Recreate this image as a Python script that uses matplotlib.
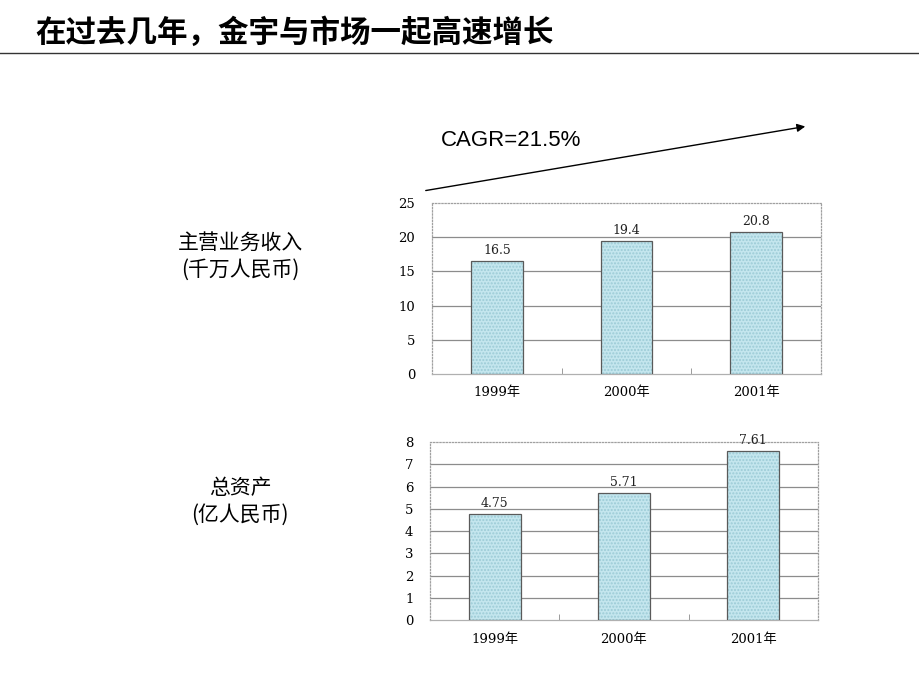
import matplotlib.pyplot as plt
from matplotlib.lines import Line2D

plt.rcParams['font.family'] = ['Noto Sans CJK SC', 'DejaVu Sans']

# chart data
years = ['1999年', '2000年', '2001年']
revenue = [16.5, 19.4, 20.8]      # 主营业务收入 (千万人民币)
assets = [4.75, 5.71, 7.61]       # 总资产 (亿人民币)
revenue_ticks = [0, 5, 10, 15, 20, 25]
assets_ticks = [0, 1, 2, 3, 4, 5, 6, 7, 8]

title = '在过去几年，金宇与市场一起高速增长'
cagr_text = 'CAGR=21.5%'

bar_color = '#c4e6ee'
hatch_color = '#9ccbd6'
edge_color = '#5a5a5a'
grid_color = '#8c8c8c'
serif = ['DejaVu Serif', 'Noto Sans CJK SC']


def draw_bars(ax, values, ticks, fmt):
    x = range(len(years))
    # fill with light dotted texture, then a dark outline on top
    ax.bar(x, values, width=0.4, color=bar_color, edgecolor=hatch_color,
           linewidth=0, hatch='.....', zorder=3)
    ax.bar(x, values, width=0.4, facecolor='none', edgecolor=edge_color,
           linewidth=0.9, zorder=4)
    for i, v in enumerate(values):
        ax.annotate(fmt.format(v), (i, v), xytext=(0, 3), textcoords='offset points',
                    ha='center', va='bottom', fontsize=9, family=serif, color='#222222')
    ax.set_xlim(-0.5, len(years) - 0.5)
    ax.set_ylim(ticks[0], ticks[-1])
    ax.set_yticks(ticks)
    ax.set_yticklabels([str(t) for t in ticks], family=serif, fontsize=9.5)
    ax.set_xticks(list(x))
    ax.set_xticklabels(years, family=serif, fontsize=9.5)
    ax.set_xticks([0.5, 1.5], minor=True)
    ax.tick_params(axis='both', which='major', length=0)
    ax.tick_params(axis='y', pad=12)
    ax.tick_params(axis='x', pad=9)
    ax.tick_params(axis='x', which='minor', direction='in', length=4, color=grid_color)
    for t in ticks[1:-1]:
        ax.axhline(t, color=grid_color, linewidth=0.9, zorder=1)
    for s in ax.spines.values():
        s.set_color('#a0a0a0')
        s.set_linestyle((0, (1, 1.5)))
        s.set_linewidth(0.9)
    ax.spines['bottom'].set_linestyle('-')
    ax.spines['bottom'].set_color('#b0b0b0')


fig = plt.figure(figsize=(9.2, 6.9), dpi=100)

ax1 = fig.add_axes([0.4696, 0.4580, 0.4228, 0.2478])
draw_bars(ax1, revenue, revenue_ticks, '{:.1f}')

ax2 = fig.add_axes([0.4674, 0.1014, 0.4217, 0.2580])
draw_bars(ax2, assets, assets_ticks, '{:.2f}')

# title and rule
fig.text(35 / 920, 1 - 33 / 690, title, fontsize=22, fontweight='bold',
         ha='left', va='center')
fig.add_artist(Line2D([0, 1], [1 - 53 / 690, 1 - 53 / 690], color='#333333',
                      linewidth=1.0, transform=fig.transFigure))

# left labels
fig.text(240 / 920, 1 - 243 / 690, '主营业务收入', fontsize=15, ha='center', va='center')
fig.text(240 / 920, 1 - 270 / 690, '(千万人民币)', fontsize=15, ha='center', va='center')
fig.text(240 / 920, 1 - 488 / 690, '总资产', fontsize=15, ha='center', va='center')
fig.text(240 / 920, 1 - 515 / 690, '(亿人民币)', fontsize=15, ha='center', va='center')

# CAGR arrow
fig.text(441 / 920, 1 - 140 / 690, cagr_text, fontsize=16, family='Liberation Sans',
         ha='left', va='center')
fig.add_artist(plt.Annotation('', xy=(808 / 920, 1 - 126 / 690),
                              xytext=(423 / 920, 1 - 191 / 690),
                              xycoords='figure fraction', textcoords='figure fraction',
                              arrowprops=dict(arrowstyle='-|>', color='black', lw=1.0,
                                              mutation_scale=12)))

fig.savefig('out.png', dpi=100)
